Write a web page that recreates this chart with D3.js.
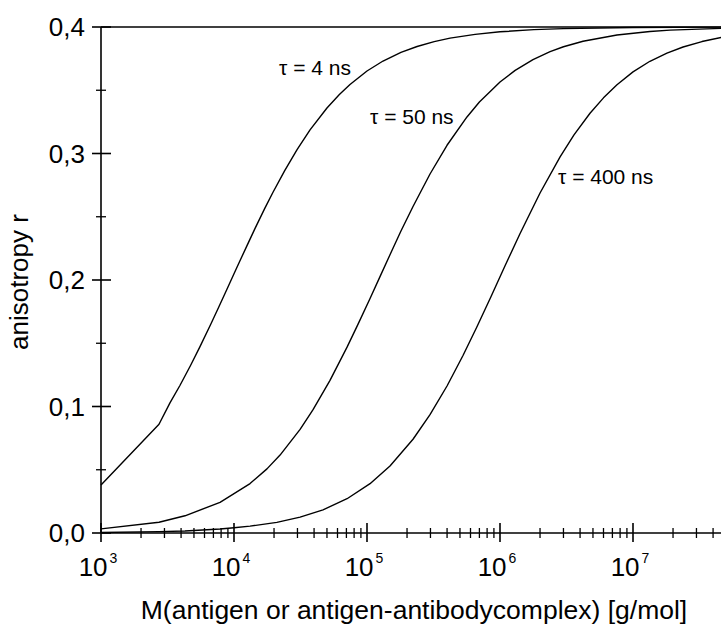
<!DOCTYPE html>
<html lang="en">
<head>
    <meta charset="UTF-8">
    <title>anisotropy</title>
    <script src="https://cdn.jsdelivr.net/npm/d3@7"></script>
    <style>
        body { margin: 0; background: #fff; }
        text { font-family: "Liberation Sans", Arial, sans-serif; fill: #000; }
    </style>
</head>
<body>
<script>
    // values: molar mass M [g/mol] and anisotropy r
    const m4 = [1000, 2730, 3300, 3930, 4700, 5550, 6700, 7700, 8850, 10000, 11000, 12500, 14400, 17000, 19600, 24000, 29800, 37300, 50000, 62000, 74500, 100000, 132000, 180000, 238000, 320000, 421000, 650000, 1e6, 1.8e6, 3e6, 1e7, 4.6e7]
    const r4 = [0.038, 0.086, 0.1029, 0.1168, 0.1322, 0.1473, 0.1652, 0.1788, 0.1927, 0.2049, 0.2144, 0.227, 0.2408, 0.2564, 0.2692, 0.2863, 0.3031, 0.3187, 0.336, 0.3467, 0.3546, 0.3652, 0.3731, 0.3799, 0.3846, 0.3884, 0.3912, 0.3942, 0.3962, 0.3979, 0.3987, 0.3996, 0.3999]

    const m50 = [1000, 2730, 4280, 7850, 13200, 17700, 22200, 31400, 39300, 52700, 70800, 85500, 105400, 125000, 148900, 180000, 221800, 297700, 399600, 564600, 700000, 1e6, 1.3e6, 1.77e6, 2.38e6, 3e6, 4.21e6, 7.58e6, 1.34e7, 1.9e7, 4.6e7]
    const r50 = [0.0033, 0.0085, 0.0136, 0.0242, 0.0391, 0.0507, 0.0616, 0.0819, 0.0975, 0.1207, 0.1469, 0.1649, 0.1854, 0.2025, 0.2199, 0.2387, 0.2581, 0.2838, 0.3065, 0.3289, 0.3407, 0.3565, 0.3657, 0.3742, 0.3805, 0.3844, 0.3887, 0.3937, 0.3964, 0.3975, 0.3989]

    const m400 = [1000, 2730, 4280, 7850, 10000, 13200, 21000, 31400, 46700, 70800, 105400, 148900, 221800, 297700, 399600, 527000, 671000, 855000, 1.1e6, 1.41e6, 2.0e6, 2.83e6, 3.6e6, 4.75e6, 6e6, 7.58e6, 1e7, 1.34e7, 1.8e7, 2.38e7, 3.3e7, 4.6e7]
    const r400 = [0.0004, 0.0011, 0.0016, 0.0032, 0.0041, 0.0054, 0.0084, 0.0125, 0.0183, 0.0271, 0.039, 0.053, 0.0741, 0.0935, 0.1162, 0.1403, 0.163, 0.1868, 0.212, 0.2364, 0.2688, 0.2974, 0.3147, 0.3318, 0.344, 0.3544, 0.3645, 0.3729, 0.3794, 0.3842, 0.3885, 0.3917]

    const series = [
        { label: 'τ = 4 ns', m: m4, r: r4, lx: 279, ly: 75 },
        { label: 'τ = 50 ns', m: m50, r: r50, lx: 370, ly: 124 },
        { label: 'τ = 400 ns', m: m400, r: r400, lx: 558, ly: 184 },
    ]

    const yTicks = [0, 0.1, 0.2, 0.3, 0.4]
    const yMinor = [0.05, 0.15, 0.25, 0.35]
    const xDecades = [1e3, 1e4, 1e5, 1e6, 1e7]
    const xTitle = 'M(antigen or antigen-antibodycomplex) [g/mol]'
    const yTitle = 'anisotropy r'

    const [width, height] = [721, 626]
    const x = d3.scaleLog().domain([1e3, Math.pow(10, 3 + 620 / 133)]).range([101, 721])
    const y = d3.scaleLinear().domain([0, 0.4]).range([533, 27])

    const svg = d3.select('body').append('svg')
        .attr('width', width)
        .attr('height', height)

    // minor x ticks 2..9 in every decade
    const xMinor = []
    xDecades.forEach(d => {
        for (let k = 2; k <= 9; k++) if (d * k <= x.domain()[1]) xMinor.push(d * k)
    })

    const axis = svg.append('g').attr('stroke', '#000').attr('stroke-width', 1.6)
    axis.append('line').attr('x1', x.range()[0]).attr('x2', width).attr('y1', y(0)).attr('y2', y(0))
    axis.append('line').attr('x1', x.range()[0]).attr('x2', width).attr('y1', y(0.4)).attr('y2', y(0.4))
    axis.append('line').attr('x1', x.range()[0]).attr('x2', x.range()[0]).attr('y1', y(0.4)).attr('y2', y(0))

    axis.selectAll('line.xmaj').data(xDecades).enter().append('line')
        .attr('x1', d => x(d)).attr('x2', d => x(d))
        .attr('y1', y(0) - 10).attr('y2', y(0) + 9)
    axis.selectAll('line.xmin').data(xMinor).enter().append('line')
        .attr('stroke-width', 1.3)
        .attr('x1', d => x(d)).attr('x2', d => x(d))
        .attr('y1', y(0) - 5).attr('y2', y(0) + 5)
    axis.selectAll('line.ymaj').data(yTicks).enter().append('line')
        .attr('x1', x.range()[0] - 9).attr('x2', x.range()[0] + 10)
        .attr('y1', d => y(d)).attr('y2', d => y(d))
    axis.selectAll('line.ymin').data(yMinor).enter().append('line')
        .attr('stroke-width', 1.3)
        .attr('x1', x.range()[0] - 5).attr('x2', x.range()[0] + 5)
        .attr('y1', d => y(d)).attr('y2', d => y(d))

    // tick labels
    svg.selectAll('text.ylab').data(yTicks).enter().append('text')
        .attr('x', 85).attr('y', d => y(d))
        .attr('dy', '0.36em')
        .attr('text-anchor', 'end')
        .style('font-size', '26px')
        .text(d => d3.format('.1f')(d).replace('.', ','))

    const xl = svg.selectAll('text.xlab').data(xDecades).enter().append('text')
        .attr('x', d => x(d) - 3).attr('y', 576)
        .attr('text-anchor', 'middle')
        .style('font-size', '26px')
    xl.append('tspan').text('10')
    xl.append('tspan').attr('dx', 2).attr('dy', -13).style('font-size', '14px')
        .text(d => Math.round(Math.log10(d)))

    // axis titles
    svg.append('text')
        .attr('x', 414).attr('y', 619)
        .attr('text-anchor', 'middle')
        .style('font-size', '26.5px')
        .text(xTitle)
    svg.append('text')
        .attr('transform', 'translate(28, 282) rotate(-90)')
        .attr('text-anchor', 'middle')
        .style('font-size', '26px')
        .text(yTitle)

    // curves
    const line = d3.line().x(d => x(d[0])).y(d => y(d[1]))
    const plot = svg.append('g')
    series.forEach(s => {
        plot.append('path')
            .attr('fill', 'none')
            .attr('stroke', '#000')
            .attr('stroke-width', 1.4)
            .attr('stroke-linejoin', 'round')
            .attr('d', line(s.m.map((m, i) => [m, s.r[i]])))
        plot.append('text')
            .attr('x', s.lx).attr('y', s.ly)
            .style('font-size', '21px')
            .text(s.label)
    })
</script>
</body>
</html>
